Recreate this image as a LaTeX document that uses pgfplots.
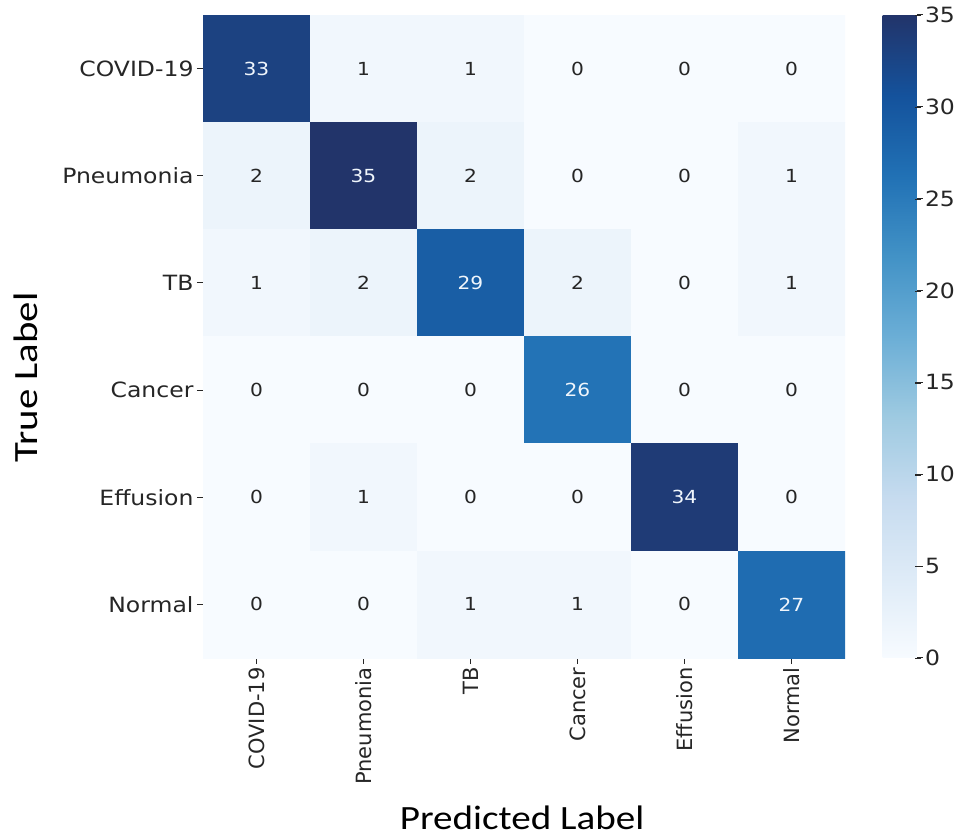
\documentclass[border=0pt]{standalone}
\usepackage{pgfplots}
\usepackage{pgfplotstable}
\pgfplotsset{compat=1.18}
\usepackage{fontspec}
\setmainfont{DejaVu Sans}
\newfontfamily\tickfont{DejaVu Sans}[FakeStretch=1.12]
\newfontfamily\xlabfont{Carlito}[FakeStretch=1.15]
\newfontfamily\ylabfont{Carlito}[FakeStretch=1.2]

\definecolor{txtdark}{RGB}{38,38,38}
\definecolor{txtlight}{RGB}{240,246,252}

% confusion matrix: x = predicted class, y = true class, v = count
\pgfplotstableread{
x y v
0 0 33
1 0 1
2 0 1
3 0 0
4 0 0
5 0 0
0 1 2
1 1 35
2 1 2
3 1 0
4 1 0
5 1 1
0 2 1
1 2 2
2 2 29
3 2 2
4 2 0
5 2 1
0 3 0
1 3 0
2 3 0
3 3 26
4 3 0
5 3 0
0 4 0
1 4 1
2 4 0
3 4 0
4 4 34
5 4 0
0 5 0
1 5 0
2 5 1
3 5 1
4 5 0
5 5 27
}\cmdata

\begin{document}
\begin{tikzpicture}
\begin{axis}[
  at={(0,0)}, anchor=south west,
  scale only axis, width=642bp, height=643bp,
  xmin=-0.5, xmax=5.5, ymin=-0.5, ymax=5.5,
  y dir=reverse,
  axis line style={draw=none},
  xtick={0,...,5}, ytick={0,...,5},
  xticklabels={COVID-19,Pneumonia,TB,Cancer,Effusion,Normal},
  yticklabels={COVID-19,Pneumonia,TB,Cancer,Effusion,Normal},
  tick align=outside, major tick length=6bp,
  tick style={txtdark, line width=1bp},
  xtick pos=bottom, ytick pos=left,
  xticklabel style={rotate=90, anchor=east, text=txtdark,
    font=\fontsize{21bp}{24bp}\selectfont},
  yticklabel style={anchor=east, text=txtdark,
    font=\tickfont\fontsize{21bp}{24bp}\selectfont},
  xlabel={Predicted Label},
  xlabel style={at={(axis description cs:0.497,0)}, anchor=base, yshift=-171bp,
    font=\xlabfont\fontsize{34bp}{38bp}\selectfont, text=black},
  ylabel={True Label},
  ylabel style={at={(axis description cs:-0.276,0.436)}, anchor=center, rotate=0,
    font=\ylabfont\fontsize{34bp}{40bp}\selectfont, text=black},
  colormap={blues}{rgb255=(247,251,255) rgb255=(222,235,247) rgb255=(198,219,239)
    rgb255=(158,202,225) rgb255=(107,174,214) rgb255=(66,146,198)
    rgb255=(33,113,181) rgb255=(20,82,156) rgb255=(34,52,106)},
  point meta min=0, point meta max=35,
  /pgf/number format/assume math mode=true,
  colorbar,
  colorbar/width=34bp,
  colorbar style={
    at={(parent axis.north east)}, anchor=north west, xshift=29bp,
    scale only axis, width=34bp, height=643bp,
    axis line style={draw=none},
    ytick={0,5,...,35},
    ytick pos=right, yticklabel pos=right,
    tick align=outside, major tick length=6bp,
    % short dash before each value marks the tick position
    yticklabel={\textcolor{txtdark}{\rule[0.3em]{6bp}{1.2bp}}\hspace{4bp}%
      \pgfmathprintnumber[assume math mode=true]{\tick}},
    yticklabel style={text=txtdark, anchor=west, xshift=-11bp,
      font=\tickfont\fontsize{21bp}{24bp}\selectfont},
  },
]
\addplot[matrix plot*, mesh/cols=6, point meta=explicit]
  table[x=x, y=y, meta=v] {\cmdata};
% cell counts, light text on the dark cells (transformed meta runs 0..1000)
\addplot[draw=none, mark=none, point meta=explicit,
  nodes near coords={%
    \ifdim\pgfplotspointmetatransformed pt>500pt\color{txtlight}\else\color{txtdark}\fi
    \pgfmathprintnumber[assume math mode=true]{\pgfplotspointmeta}},
  every node near coord/.append style={anchor=center,
    font=\tickfont\fontsize{18bp}{21bp}\selectfont}]
  table[x=x, y=y, meta=v] {\cmdata};
\end{axis}
\pgfresetboundingbox
\path[use as bounding box] (-203bp,-181bp) rectangle (754bp,658bp);
\end{tikzpicture}
\end{document}
